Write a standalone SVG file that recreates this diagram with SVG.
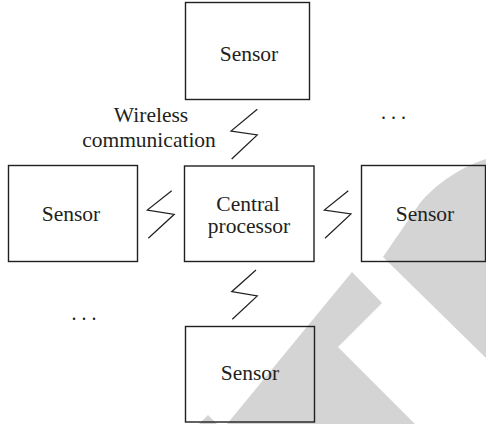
<svg xmlns="http://www.w3.org/2000/svg" width="486" height="424" viewBox="0 0 486 424">
  <style>
    .box { fill: none; stroke: #231f20; stroke-width: 1.4; }
    .bolt { fill: none; stroke: #231f20; stroke-width: 1.2; stroke-linejoin: miter; }
    .lbl { font-family: "Liberation Serif", "Times New Roman", serif; font-size: 21.5px; fill: #231f20; text-anchor: middle; }
    .dots { font-family: "Liberation Serif", "Times New Roman", serif; font-size: 20px; fill: #231f20; }
    .mark { fill: #d4d4d4; }
  </style>
  <rect width="486" height="424" fill="#ffffff"/>

  <!-- background stamp shapes -->
  <g id="stamp">
    <path class="mark" d="M352,272 L382,303 L338,347 L415,424 L227,424 Z"/>
    <path class="mark" d="M199,424 L208,415 L217,424 Z"/>
    <path class="mark" d="M486,159 C458,168 434,186 420,203 L383,257 L486,358 Z"/>
  </g>

  <g id="sensor-top">
    <rect class="box" x="185.5" y="2.5" width="124" height="97"/>
    <text class="lbl" x="249" y="61">Sensor</text>
  </g>
  <g id="sensor-left">
    <rect class="box" x="8.5" y="165.5" width="129" height="96"/>
    <text class="lbl" x="71" y="220.7">Sensor</text>
  </g>
  <g id="central-processor">
    <rect class="box" x="184.5" y="166" width="129.5" height="95.5"/>
    <text class="lbl" x="248" y="210.5">Central</text>
    <text class="lbl" x="249" y="233.3">processor</text>
  </g>
  <g id="sensor-right">
    <rect class="box" x="361.5" y="165.5" width="124" height="96"/>
    <text class="lbl" x="425" y="220.7">Sensor</text>
  </g>
  <g id="sensor-bottom">
    <rect class="box" x="185.5" y="326.5" width="129" height="95.5"/>
    <text class="lbl" x="250" y="380">Sensor</text>
  </g>

  <!-- wireless links -->
  <g id="connectors">
    <polyline class="bolt" points="257.3,109.3 231,131 257.3,135 231.7,159"/>
    <polyline class="bolt" points="171.7,190.7 147.3,210 174.3,214.3 148.3,238.3"/>
    <polyline class="bolt" points="348.3,190.7 324.3,210 351,214 325,238.3"/>
    <polyline class="bolt" points="256,270 231.7,291.7 257.3,296 232.3,319.3"/>
  </g>

  <g id="link-label">
    <text class="lbl" x="151" y="121.5">Wireless</text>
    <text class="lbl" x="149" y="146.5">communication</text>
  </g>

  <g id="more-sensors">
    <text class="dots" x="381" y="119">. . .</text>
    <text class="dots" x="71.5" y="320">. . .</text>
  </g>
</svg>
